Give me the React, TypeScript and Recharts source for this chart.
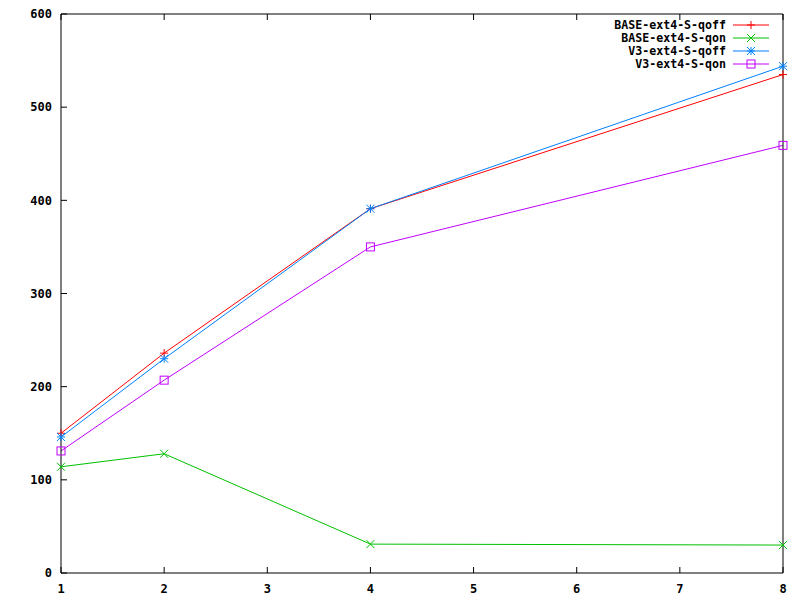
import { LineChart, Line, XAxis, YAxis } from "recharts";

const threads = [1, 2, 4, 8];
const baseQoff = [150, 236, 391, 535];
const baseQon = [114, 128, 31, 30];
const v3Qoff = [146, 230, 391, 544];
const v3Qon = [131, 207, 350, 459];

const xTicks = [1, 2, 3, 4, 5, 6, 7, 8];
const yTicks = [0, 100, 200, 300, 400, 500, 600];

const data = threads.map((t, i) => ({
  t,
  baseQoff: baseQoff[i],
  baseQon: baseQon[i],
  v3Qoff: v3Qoff[i],
  v3Qon: v3Qon[i],
}));

const font = "'DejaVu Sans Mono', monospace";
const tickStyle = { fontSize: 12, fontWeight: "bold", fill: "#000", fontFamily: font };

type Mark = "plus" | "cross" | "star" | "box";

function marker(kind: Mark, color: string, cx: number, cy: number, key?: string) {
  const r = 4;
  const p = (
    <path key="p" d={`M${cx - r},${cy}H${cx + r}M${cx},${cy - r}V${cy + r}`} />
  );
  const x = (
    <path key="x" d={`M${cx - r},${cy - r}L${cx + r},${cy + r}M${cx - r},${cy + r}L${cx + r},${cy - r}`} />
  );
  return (
    <g key={key} stroke={color} strokeWidth={1} fill="none">
      {kind === "plus" && p}
      {kind === "cross" && x}
      {kind === "star" && [p, x]}
      {kind === "box" && <rect x={cx - 4} y={cy - 4} width={8} height={8} />}
    </g>
  );
}

const series = [
  { key: "baseQoff", name: "BASE-ext4-S-qoff", color: "#ff0000", mark: "plus" as Mark },
  { key: "baseQon", name: "BASE-ext4-S-qon", color: "#00c000", mark: "cross" as Mark },
  { key: "v3Qoff", name: "V3-ext4-S-qoff", color: "#0080ff", mark: "star" as Mark },
  { key: "v3Qon", name: "V3-ext4-S-qon", color: "#c000ff", mark: "box" as Mark },
];

// gnuplot-style key, drawn over the plot in the top-right corner
function LegendBox() {
  return (
    <svg
      width={200}
      height={70}
      style={{ position: "absolute", left: 600, top: 10, display: "block" }}
    >
      {series.map((s, i) => {
        const y = 15 + i * 13;
        return (
          <g key={s.key}>
            <text
              x={126}
              y={y}
              dy="0.35em"
              textAnchor="end"
              style={{ fontSize: 11.6, fontWeight: "bold", fontFamily: font }}
              fill="#000"
            >
              {s.name}
            </text>
            <line x1={133} x2={169} y1={y} y2={y} stroke={s.color} />
            {marker(s.mark, s.color, 151, y)}
          </g>
        );
      })}
    </svg>
  );
}

const blank = () => <g />;

export default function App() {
  return (
    <div style={{ position: "absolute", left: 0, top: 0, width: 800, height: 600, background: "#fff" }}>
      <LineChart width={800} height={600} data={data} margin={{ top: 0, right: 0, bottom: 0, left: 0 }}>
        <XAxis
          dataKey="t"
          type="number"
          domain={[1, 8]}
          ticks={xTicks}
          height={27}
          tickSize={-6}
          tickMargin={17}
          tick={tickStyle}
          stroke="#000"
          interval={0}
        />
        <XAxis
          xAxisId="top"
          dataKey="t"
          type="number"
          orientation="top"
          domain={[1, 8]}
          ticks={xTicks}
          height={14}
          tickSize={-6}
          tick={blank}
          stroke="#000"
          interval={0}
        />
        <YAxis
          type="number"
          domain={[0, 600]}
          ticks={yTicks}
          width={61}
          tickSize={-6}
          tickMargin={15}
          tick={tickStyle}
          stroke="#000"
          interval={0}
        />
        <YAxis
          yAxisId="right"
          orientation="right"
          type="number"
          domain={[0, 600]}
          ticks={yTicks}
          width={17}
          tickSize={-6}
          tick={blank}
          stroke="#000"
          interval={0}
        />
        {series.map((s) => (
          <Line
            key={s.key}
            dataKey={s.key}
            name={s.name}
            stroke={s.color}
            strokeWidth={1}
            isAnimationActive={false}
            dot={(props: any) => marker(s.mark, s.color, props.cx, props.cy, `${s.key}-${props.index}`)}
            activeDot={false}
          />
        ))}
      </LineChart>
      <LegendBox />
    </div>
  );
}
